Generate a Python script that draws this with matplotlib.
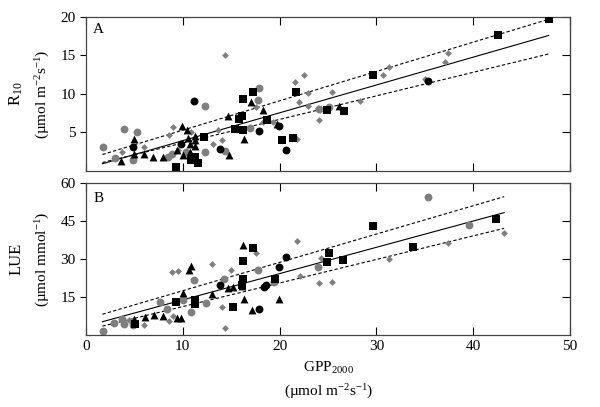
import matplotlib
matplotlib.use("Agg")
import matplotlib.pyplot as plt

# police type Times pour tout le graphique
matplotlib.rcParams.update({'font.size': 11,
                            'font.family': 'Liberation Serif',
                            'mathtext.fontset': 'custom',
                            'mathtext.rm': 'Liberation Serif',
                            'mathtext.it': 'Liberation Serif:italic'})

# ---------------- Panel A : R10 vs GPP2000 ----------------
a_sq_x = [9.3, 10.86, 11.55, 11.3, 12.24, 15.4, 16.2, 15.85, 16.1, 16.2, 17.3, 18.7,
          20.2, 21.4, 21.7, 24.9, 26.7, 29.7, 42.6, 47.8]
a_sq_y = [0.58, 1.45, 1.01, 1.88, 4.39, 5.43, 5.26, 6.78, 7.12, 9.29, 10.2, 6.65,
          4.05, 4.31, 10.2, 7.98, 7.73, 12.5, 17.6, 19.7]
a_ci_x = [4.83, 9.82, 11.2, 13.8, 17.9, 19.9, 20.7, 35.3]
a_ci_y = [3.1, 3.53, 9.07, 2.88, 5.17, 5.78, 2.66, 11.7]
a_tri_x = [3.65, 4.93, 4.93, 6.03, 6.96, 8.0, 9.93, 10.4, 11.3, 10.5, 10.75, 11.3,
           9.4, 10.75, 10.0, 11.3, 14.65, 14.8, 16.3, 17.0, 18.3, 19.7, 26.1]
a_tri_y = [1.27, 4.18, 2.23, 2.23, 1.79, 1.79, 5.78, 5.35, 4.6, 4.3, 3.44, 3.2,
           2.66, 2.44, 2.14, 3.96, 7.08, 2.14, 4.18, 8.9, 7.95, 6.1, 8.5]
a_gci_x = [1.72, 3.9, 5.27, 3.03, 4.83, 8.45, 8.9, 10.34, 12.34, 12.34, 14.4, 17.75,
           17.9, 16.9, 24.1, 25.1]
a_gci_y = [3.1, 5.5, 5.0, 1.71, 1.49, 1.79, 2.23, 2.44, 8.5, 2.44, 2.57, 9.16,
           10.8, 5.6, 8.07, 8.3]
a_gdi_x = [3.72, 6.03, 8.58, 9.03, 9.48, 10.8, 13.1, 14.0, 13.65, 14.4, 17.6, 18.3,
           19.3, 21.6, 22.5, 22.9, 22.0, 22.9, 21.8, 24.1, 25.4, 28.3, 30.7, 31.3,
           35.0, 37.1, 37.4, 24.0]
a_gdi_y = [2.44, 3.1, 4.7, 5.69, 2.75, 5.1, 3.44, 3.96, 5.35, 15.1, 8.3, 6.34,
           6.34, 11.5, 12.4, 10.1, 9.0, 8.5, 4.18, 6.56, 10.2, 9.03, 12.5, 13.5,
           12.0, 14.1, 15.3, 8.16]
# regression et bornes (valeurs aux extremites)
a_line_x = [1.7, 47.8]
a_fit = [0.94, 17.6]
a_hi = [2.14, 19.7]
a_lo = [1.1, 15.2]

# ---------------- Panel B : LUE vs GPP2000 ----------------
b_sq_x = [5.1, 9.3, 11.3, 11.3, 15.2, 16.2, 16.2, 16.1, 17.3, 19.5, 24.9, 25.1,
          26.6, 29.7, 33.8, 42.4]
b_sq_y = [4.3, 12.9, 12.1, 13.8, 11.2, 29.3, 22.0, 19.7, 34.5, 22.0, 28.9, 32.5,
          29.6, 43.2, 34.9, 45.8]
b_ci_x = [13.8, 17.9, 18.4, 18.6, 19.9, 20.7]
b_ci_y = [19.7, 10.1, 19.1, 19.7, 26.7, 30.7]
b_tri_x = [4.93, 6.1, 7.0, 8.0, 9.4, 9.8, 10.0, 10.6, 10.8, 11.3, 13.0, 14.7,
           15.2, 16.2, 16.3, 17.1, 19.9, 16.1]
b_tri_y = [6.2, 7.0, 7.9, 7.5, 6.8, 6.8, 16.5, 25.7, 27.4, 14.2, 16.2, 18.7,
           19.1, 35.5, 14.1, 9.9, 14.1, 19.2]
b_gci_x = [1.72, 2.93, 3.72, 3.9, 4.83, 7.6, 8.4, 10.0, 10.8, 11.2, 12.4, 14.3,
           17.8, 19.4, 24.0, 35.3, 39.6]
b_gci_y = [1.58, 4.6, 6.2, 4.3, 3.95, 13.0, 10.4, 13.8, 9.0, 21.7, 12.8, 22.0,
           25.7, 21.0, 27.0, 54.5, 43.4]
b_gdi_x = [4.48, 6.03, 8.6, 9.0, 8.9, 9.5, 13.0, 14.1, 14.4, 15.0, 17.6, 21.8,
           22.1, 24.1, 24.3, 25.4, 31.3, 37.4, 43.2]
b_gdi_y = [5.9, 3.95, 5.5, 7.5, 24.7, 25.4, 28.0, 10.9, 2.6, 25.7, 32.5, 37.2,
           23.3, 20.6, 30.3, 21.0, 30.0, 36.4, 40.4]
b_line_x = [1.7, 43.2]
b_fit = [5.25, 48.3]
b_hi = [8.2, 54.6]
b_lo = [3.5, 42.1]

gris = '#7f7f7f'

fig = plt.figure(figsize=(6.0, 4.07), dpi=100)
axA = fig.add_axes([0.1433, 0.5799, 0.8067, 0.3784])
axB = fig.add_axes([0.1433, 0.1769, 0.8067, 0.3735])


def panneau(ax, sq, ci, tri, gci, gdi, lx, fit, hi, lo):
    ax.plot(lx, fit, color='black', lw=0.8, zorder=1)
    ax.plot(lx, hi, color='black', lw=0.8, ls=(0, (3, 2)), zorder=1)
    ax.plot(lx, lo, color='black', lw=0.8, ls=(0, (3, 2)), zorder=1)
    ax.scatter(gdi[0], gdi[1], marker='D', s=12, color=gris, lw=0, zorder=2)
    ax.scatter(gci[0], gci[1], marker='o', s=32, color=gris, lw=0, zorder=2)
    ax.scatter(tri[0], tri[1], marker='^', s=32, color='black', lw=0, zorder=3)
    ax.scatter(ci[0], ci[1], marker='o', s=32, color='black', lw=0, zorder=3)
    ax.scatter(sq[0], sq[1], marker='s', s=32, color='black', lw=0, zorder=3)
    ax.set_xlim(0, 50)
    ax.set_xticks([0, 10, 20, 30, 40, 50])
    ax.tick_params(axis='x', direction='in', top=True, length=6, width=0.8)
    ax.tick_params(axis='y', direction='out', length=4, width=0.8)
    droite = ax.secondary_yaxis('right')
    droite.set_yticks(ax.get_yticks())
    droite.tick_params(direction='in', length=6, width=0.8, labelright=False)
    droite.spines['right'].set_color('#444444')
    for s in ax.spines.values():
        s.set_color('#444444')
        s.set_linewidth(0.9)


axA.set_ylim(0, 20)
axA.set_yticks([5, 10, 15, 20])
panneau(axA, (a_sq_x, a_sq_y), (a_ci_x, a_ci_y), (a_tri_x, a_tri_y),
        (a_gci_x, a_gci_y), (a_gdi_x, a_gdi_y), a_line_x, a_fit, a_hi, a_lo)
axA.tick_params(axis='x', labelbottom=False)
axA.text(0.015, 0.92, 'A', transform=axA.transAxes, fontsize=11, va='center')

axB.set_ylim(0, 60)
axB.set_yticks([15, 30, 45, 60])
panneau(axB, (b_sq_x, b_sq_y), (b_ci_x, b_ci_y), (b_tri_x, b_tri_y),
        (b_gci_x, b_gci_y), (b_gdi_x, b_gdi_y), b_line_x, b_fit, b_hi, b_lo)
axB.text(0.015, 0.90, 'B', transform=axB.transAxes, fontsize=11, va='center')

# titres des axes (deux lignes)
fig.text(0.027, 0.769, 'R$_{10}$', rotation=90, ha='center', va='center', fontsize=12)
fig.text(0.072, 0.769, '(\u00b5mol m$^{-2}$s$^{-1}$)', rotation=90, ha='center', va='center', fontsize=11)
fig.text(0.027, 0.363, 'LUE', rotation=90, ha='center', va='center', fontsize=12)
fig.text(0.072, 0.363, '(\u00b5mol mmol$^{-1}$)', rotation=90, ha='center', va='center', fontsize=11)
fig.text(0.547, 0.096, 'GPP$_{2000}$', ha='center', va='center', fontsize=11)
fig.text(0.547, 0.037, '(\u00b5mol m$^{-2}$s$^{-1}$)', ha='center', va='center', fontsize=11)

fig.savefig('out.png', dpi=100)
